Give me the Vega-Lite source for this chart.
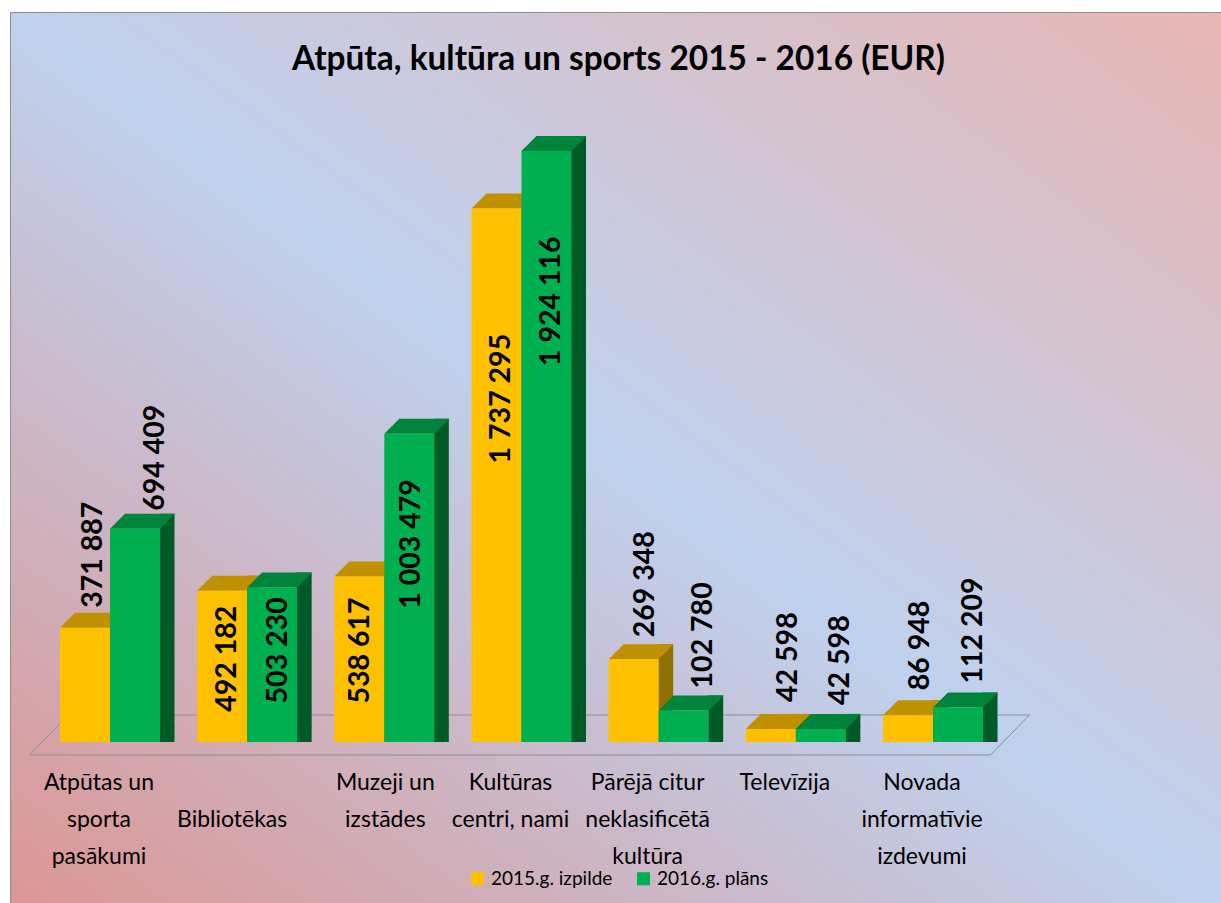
{"$schema":"https://vega.github.io/schema/vega-lite/v6.json","width":1211,"height":891,"padding":{"left":10,"top":12,"right":0,"bottom":0},"autosize":"none","background":"white",
"view":{"stroke":"#8e8e8e","fill":{"gradient":"linear","x1":0,"y1":1,"x2":1,"y2":0,"stops":[{"offset":0,"color":"#dc9694"},{"offset":0.5,"color":"#bfd1ee"},{"offset":1,"color":"#e8b6b4"}]}},
"config":{"font":"Lato"},
"title":{"text":"Atpūta, kultūra un sports 2015 - 2016 (EUR)","font":"Lato","fontSize":33.4,"fontWeight":"bold","color":"#000000","anchor":"middle","frame":"group","dx":3,"dy":69},
"data":{"values":[
{"cat":"Atpūtas un sporta pasākumi","series":"2015.g. izpilde","value":371887},{"cat":"Atpūtas un sporta pasākumi","series":"2016.g. plāns","value":694409},
{"cat":"Bibliotēkas","series":"2015.g. izpilde","value":492182},{"cat":"Bibliotēkas","series":"2016.g. plāns","value":503230},
{"cat":"Muzeji un izstādes","series":"2015.g. izpilde","value":538617},{"cat":"Muzeji un izstādes","series":"2016.g. plāns","value":1003479},
{"cat":"Kultūras centri, nami","series":"2015.g. izpilde","value":1737295},{"cat":"Kultūras centri, nami","series":"2016.g. plāns","value":1924116},
{"cat":"Pārējā citur neklasificētā kultūra","series":"2015.g. izpilde","value":269348},{"cat":"Pārējā citur neklasificētā kultūra","series":"2016.g. plāns","value":102780},
{"cat":"Televīzija","series":"2015.g. izpilde","value":42598},{"cat":"Televīzija","series":"2016.g. plāns","value":42598},
{"cat":"Novada informatīvie izdevumi","series":"2015.g. izpilde","value":86948},{"cat":"Novada informatīvie izdevumi","series":"2016.g. plāns","value":112209}]},
"transform":[{"calculate":"replace(format(datum.value, ','), /,/g, ' ')","as":"label"}],
"encoding":{"x":{"field":"cat","type":"nominal","sort":null,"scale":{"domain":["Atpūtas un sporta pasākumi","Bibliotēkas","Muzeji un izstādes","Kultūras centri, nami","Pārējā citur neklasificētā kultūra","Televīzija","Novada informatīvie izdevumi"],"range":[31.4,991.6],"paddingInner":0,"paddingOuter":0},
"axis":{"title":null,"domain":false,"ticks":false,"grid":false,"labelAngle":0,"labelAlign":"center","labelBaseline":"top","labelFont":"Lato","labelFontSize":23,"labelColor":"#000000","labelLineHeight":37,"labelLimit":0,"labelOverlap":false,"labelFlush":false,"labelPadding":3,"offset":-135,
"labelOffset":{"condition":[{"test":"datum.value=='Muzeji un izstādes'","value":1},{"test":"datum.value=='Bibliotēkas'","value":-15}],"value":-11},
"labelExpr":"{'Atpūtas un sporta pasākumi':['Atpūtas un','sporta','pasākumi'],'Bibliotēkas':['','Bibliotēkas'],'Muzeji un izstādes':['Muzeji un','izstādes'],'Kultūras centri, nami':['Kultūras','centri, nami'],'Pārējā citur neklasificētā kultūra':['Pārējā citur','neklasificētā','kultūra'],'Televīzija':['Televīzija'],'Novada informatīvie izdevumi':['Novada','informatīvie','izdevumi']}[datum.label]"}},
"y":{"field":"value","type":"quantitative","stack":null,"axis":null,"scale":{"domain":[0,1924116],"range":[730,139],"nice":false,"zero":true}}},
"layer":[
{"transform":[{"filter":"datum.cat=='Kultūras centri, nami' && datum.series=='2015.g. izpilde'"}],"mark":{"type":"point","shape":"M-492,13 L469,13 L508,-27 L-453,-27 Z","size":4,"filled":false,"opacity":1,"stroke":"#8f8f8f","strokeWidth":1},"encoding":{"y":{"datum":0}}},
{"transform":[{"filter":"datum.series=='2015.g. izpilde'"}],"mark":{"type":"bar","width":15,"xOffset":7,"yOffset":-15,"fill":"#8f7000"}},
{"transform":[{"filter":"datum.series=='2015.g. izpilde'"}],"mark":{"type":"point","shape":"M0,0 L15,-15 L0,-15 Z","size":4,"filled":true,"opacity":1,"strokeWidth":0,"fill":"#8f7000"},"encoding":{"y":{"datum":0}}},
{"transform":[{"filter":"datum.series=='2015.g. izpilde'"}],"mark":{"type":"point","shape":"M-25,0 L25,0 L40,-15 L-10,-15 Z","size":4,"filled":true,"opacity":1,"strokeWidth":0,"fill":"#bf9000","xOffset":-25}},
{"transform":[{"filter":"datum.series=='2015.g. izpilde'"}],"mark":{"type":"bar","width":50,"xOffset":-25},"encoding":{"color":{"field":"series","type":"nominal","scale":{"domain":["2015.g. izpilde","2016.g. plāns"],"range":["#ffc000","#00b050"]},"legend":{"title":null,"orient":"none","legendX":458,"legendY":857,"direction":"horizontal","columns":2,"symbolType":"square","symbolSize":169,"symbolStrokeWidth":0,"labelFont":"Lato","labelFontSize":19,"labelColor":"#000000","labelLimit":0,"columnPadding":21,"padding":0}}}},
{"transform":[{"filter":"datum.series=='2016.g. plāns'"}],"mark":{"type":"bar","width":15,"xOffset":57,"yOffset":-15,"fill":"#005a28"}},
{"transform":[{"filter":"datum.series=='2016.g. plāns'"}],"mark":{"type":"point","shape":"M0,0 L15,-15 L0,-15 Z","size":4,"filled":true,"opacity":1,"strokeWidth":0,"fill":"#005a28","xOffset":50},"encoding":{"y":{"datum":0}}},
{"transform":[{"filter":"datum.series=='2016.g. plāns'"}],"mark":{"type":"point","shape":"M-25,0 L25,0 L40,-15 L-10,-15 Z","size":4,"filled":true,"opacity":1,"strokeWidth":0,"fill":"#00843c","xOffset":25}},
{"transform":[{"filter":"datum.series=='2016.g. plāns'"}],"mark":{"type":"bar","width":50,"xOffset":25},"encoding":{"color":{"field":"series","type":"nominal"}}},
{"transform":[{"filter":"datum.series=='2015.g. izpilde' && datum.value==371887"}],"mark":{"type":"text","angle":270,"align":"left","baseline":"middle","font":"Lato","fontWeight":"bold","fontSize":28.5,"color":"#000000","xOffset":-17,"yOffset":-20},"encoding":{"text":{"field":"label"}}},
{"transform":[{"filter":"datum.value==694409"}],"mark":{"type":"text","angle":270,"align":"left","baseline":"middle","font":"Lato","fontWeight":"bold","fontSize":28.5,"color":"#000000","xOffset":45,"yOffset":-18},"encoding":{"text":{"field":"label"}}},
{"transform":[{"filter":"datum.value==492182"}],"mark":{"type":"text","angle":270,"align":"left","baseline":"middle","font":"Lato","fontWeight":"bold","fontSize":28.5,"color":"#000000","xOffset":-20,"yOffset":121},"encoding":{"text":{"field":"label"}}},
{"transform":[{"filter":"datum.value==503230"}],"mark":{"type":"text","angle":270,"align":"left","baseline":"middle","font":"Lato","fontWeight":"bold","fontSize":28.5,"color":"#000000","xOffset":31,"yOffset":116},"encoding":{"text":{"field":"label"}}},
{"transform":[{"filter":"datum.value==538617"}],"mark":{"type":"text","angle":270,"align":"left","baseline":"middle","font":"Lato","fontWeight":"bold","fontSize":28.5,"color":"#000000","xOffset":-24,"yOffset":127},"encoding":{"text":{"field":"label"}}},
{"transform":[{"filter":"datum.value==1003479"}],"mark":{"type":"text","angle":270,"align":"left","baseline":"middle","font":"Lato","fontWeight":"bold","fontSize":28.5,"color":"#000000","xOffset":27,"yOffset":175},"encoding":{"text":{"field":"label"}}},
{"transform":[{"filter":"datum.value==1737295"}],"mark":{"type":"text","angle":270,"align":"left","baseline":"middle","font":"Lato","fontWeight":"bold","fontSize":28.5,"color":"#000000","xOffset":-21,"yOffset":255},"encoding":{"text":{"field":"label"}}},
{"transform":[{"filter":"datum.value==1924116"}],"mark":{"type":"text","angle":270,"align":"left","baseline":"middle","font":"Lato","fontWeight":"bold","fontSize":28.5,"color":"#000000","xOffset":29,"yOffset":215},"encoding":{"text":{"field":"label"}}},
{"transform":[{"filter":"datum.value==269348"}],"mark":{"type":"text","angle":270,"align":"left","baseline":"middle","font":"Lato","fontWeight":"bold","fontSize":28.5,"color":"#000000","xOffset":-14,"yOffset":-22},"encoding":{"text":{"field":"label"}}},
{"transform":[{"filter":"datum.value==102780"}],"mark":{"type":"text","angle":270,"align":"left","baseline":"middle","font":"Lato","fontWeight":"bold","fontSize":28.5,"color":"#000000","xOffset":44,"yOffset":-22},"encoding":{"text":{"field":"label"}}},
{"transform":[{"filter":"datum.value==42598 && datum.series=='2015.g. izpilde'"}],"mark":{"type":"text","angle":270,"align":"left","baseline":"middle","font":"Lato","fontWeight":"bold","fontSize":28.5,"color":"#000000","xOffset":-8,"yOffset":-27},"encoding":{"text":{"field":"label"}}},
{"transform":[{"filter":"datum.value==42598 && datum.series=='2016.g. plāns'"}],"mark":{"type":"text","angle":270,"align":"left","baseline":"middle","font":"Lato","fontWeight":"bold","fontSize":28.5,"color":"#000000","xOffset":44,"yOffset":-24},"encoding":{"text":{"field":"label"}}},
{"transform":[{"filter":"datum.value==86948"}],"mark":{"type":"text","angle":270,"align":"left","baseline":"middle","font":"Lato","fontWeight":"bold","fontSize":28.5,"color":"#000000","xOffset":-13,"yOffset":-25},"encoding":{"text":{"field":"label"}}},
{"transform":[{"filter":"datum.value==112209"}],"mark":{"type":"text","angle":270,"align":"left","baseline":"middle","font":"Lato","fontWeight":"bold","fontSize":28.5,"color":"#000000","xOffset":40,"yOffset":-24},"encoding":{"text":{"field":"label"}}}
]}
